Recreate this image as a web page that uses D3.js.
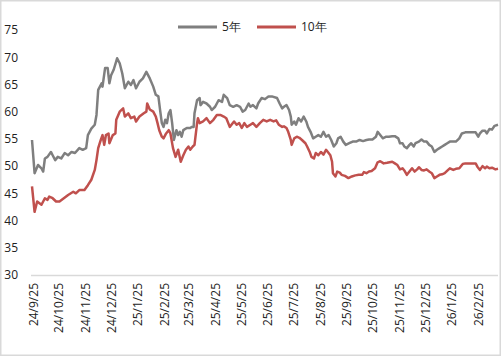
<!DOCTYPE html>
<html><head><meta charset="utf-8">
<script src="https://cdn.jsdelivr.net/npm/d3@7/dist/d3.min.js"></script>
<style>body{margin:0;background:#fff}svg{display:block}text{font-family:"Open Sans","Noto Sans",sans-serif}</style>
</head><body><svg id="c" width="501" height="356"></svg>
<script>
const seriesNames = ["5年", "10年"];
const dates5 = ["2024-09-24","2024-09-27","2024-10-01","2024-10-05","2024-10-07","2024-10-09","2024-10-12","2024-10-16","2024-10-18","2024-10-21","2024-10-24","2024-10-28","2024-11-01","2024-11-05","2024-11-09","2024-11-13","2024-11-18","2024-11-22","2024-11-26","2024-11-28","2024-12-02","2024-12-06","2024-12-08","2024-12-10","2024-12-14","2024-12-15","2024-12-18","2024-12-21","2024-12-23","2024-12-25","2024-12-28","2025-01-01","2025-01-04","2025-01-07","2025-01-10","2025-01-14","2025-01-17","2025-01-20","2025-01-23","2025-01-27","2025-01-31","2025-02-04","2025-02-08","2025-02-12","2025-02-15","2025-02-18","2025-02-20","2025-02-22","2025-02-24","2025-02-26","2025-02-28","2025-03-02","2025-03-04","2025-03-06","2025-03-08","2025-03-11","2025-03-13","2025-03-15","2025-03-17","2025-03-19","2025-03-23","2025-03-27","2025-03-29","2025-03-31","2025-04-01","2025-04-04","2025-04-07","2025-04-08","2025-04-11","2025-04-15","2025-04-19","2025-04-21","2025-04-25","2025-04-29","2025-05-03","2025-05-05","2025-05-09","2025-05-12","2025-05-16","2025-05-20","2025-05-24","2025-05-27","2025-05-30","2025-06-03","2025-06-05","2025-06-08","2025-06-12","2025-06-14","2025-06-18","2025-06-22","2025-06-26","2025-06-30","2025-07-06","2025-07-09","2025-07-12","2025-07-14","2025-07-17","2025-07-20","2025-07-22","2025-07-23","2025-07-26","2025-07-28","2025-07-31","2025-08-03","2025-08-06","2025-08-09","2025-08-11","2025-08-14","2025-08-17","2025-08-20","2025-08-23","2025-08-26","2025-08-29","2025-09-01","2025-09-04","2025-09-07","2025-09-10","2025-09-13","2025-09-15","2025-09-18","2025-09-21","2025-09-24","2025-09-28","2025-10-02","2025-10-06","2025-10-10","2025-10-14","2025-10-18","2025-10-21","2025-10-25","2025-10-29","2025-10-31","2025-11-03","2025-11-06","2025-11-10","2025-11-13","2025-11-17","2025-11-20","2025-11-24","2025-11-26","2025-11-29","2025-12-01","2025-12-04","2025-12-07","2025-12-09","2025-12-12","2025-12-14","2025-12-18","2025-12-21","2025-12-24","2025-12-27","2025-12-30","2026-01-02","2026-01-05","2026-01-08","2026-01-11","2026-01-14","2026-01-17","2026-01-20","2026-01-23","2026-01-27","2026-01-30","2026-02-03","2026-02-06","2026-02-10","2026-02-14","2026-02-18","2026-02-22","2026-02-25","2026-02-27","2026-03-02","2026-03-05","2026-03-07","2026-03-10","2026-03-13","2026-03-16","2026-03-20"];
const values5 = [54.8,48.7,50.2,49.6,49.0,51.4,51.7,52.6,52.0,51.1,51.7,51.4,52.4,52.0,52.6,52.4,53.3,53.0,53.3,55.7,56.9,57.6,59.4,64.0,65.2,64.6,68.0,68.0,65.2,66.7,67.7,69.8,68.9,67.0,64.3,65.5,64.9,65.8,64.3,65.5,66.1,67.3,66.1,64.6,63.1,62.8,60.3,57.9,57.2,58.5,57.9,59.7,60.3,57.9,54.8,56.6,55.7,56.3,55.4,56.6,57.0,57.0,57.2,57.2,59.7,62.1,62.5,61.2,61.8,61.5,60.9,60.3,60.9,62.1,61.8,63.1,62.5,61.2,60.9,61.2,60.9,60.0,60.3,61.5,60.9,61.2,60.6,61.5,62.5,62.3,62.8,62.8,62.5,61.5,60.6,60.9,61.2,60.3,59.1,57.6,58.2,57.6,58.8,58.2,59.1,58.2,57.2,56.3,55.1,55.4,55.7,55.4,56.3,55.4,55.7,54.8,53.6,54.2,55.1,55.4,54.5,53.9,54.2,54.5,54.5,54.8,54.6,54.8,54.9,54.9,55.4,56.3,55.7,55.1,55.4,55.4,55.5,55.5,55.1,54.2,54.2,53.6,53.3,53.9,54.2,53.6,54.2,54.5,54.9,54.5,54.5,53.9,53.6,52.6,53.0,53.3,53.6,53.9,54.2,54.5,54.5,54.5,55.1,56.0,56.2,56.2,56.2,56.2,55.4,56.0,56.5,56.5,56.0,56.8,56.7,57.4,57.6];
const dates10 = ["2024-09-24","2024-09-27","2024-09-30","2024-10-05","2024-10-09","2024-10-12","2024-10-14","2024-10-18","2024-10-22","2024-10-26","2024-10-31","2024-11-05","2024-11-11","2024-11-14","2024-11-18","2024-11-24","2024-11-28","2024-12-02","2024-12-06","2024-12-08","2024-12-10","2024-12-13","2024-12-15","2024-12-17","2024-12-19","2024-12-22","2024-12-23","2024-12-27","2024-12-30","2024-12-31","2025-01-04","2025-01-08","2025-01-10","2025-01-14","2025-01-17","2025-01-21","2025-01-23","2025-01-27","2025-02-01","2025-02-04","2025-02-05","2025-02-08","2025-02-12","2025-02-15","2025-02-17","2025-02-19","2025-02-22","2025-02-24","2025-02-27","2025-03-02","2025-03-04","2025-03-07","2025-03-10","2025-03-13","2025-03-16","2025-03-19","2025-03-22","2025-03-25","2025-03-27","2025-03-30","2025-04-01","2025-04-04","2025-04-05","2025-04-07","2025-04-11","2025-04-15","2025-04-19","2025-04-23","2025-04-27","2025-05-01","2025-05-05","2025-05-08","2025-05-12","2025-05-14","2025-05-17","2025-05-20","2025-05-23","2025-05-26","2025-05-29","2025-06-01","2025-06-05","2025-06-08","2025-06-12","2025-06-16","2025-06-20","2025-06-24","2025-06-28","2025-07-02","2025-07-05","2025-07-08","2025-07-12","2025-07-14","2025-07-17","2025-07-19","2025-07-22","2025-07-23","2025-07-26","2025-07-29","2025-08-01","2025-08-04","2025-08-08","2025-08-10","2025-08-13","2025-08-15","2025-08-18","2025-08-20","2025-08-23","2025-08-26","2025-08-29","2025-09-01","2025-09-04","2025-09-06","2025-09-08","2025-09-09","2025-09-12","2025-09-14","2025-09-17","2025-09-19","2025-09-23","2025-09-27","2025-10-01","2025-10-05","2025-10-09","2025-10-13","2025-10-15","2025-10-18","2025-10-21","2025-10-24","2025-10-28","2025-10-31","2025-11-03","2025-11-07","2025-11-11","2025-11-17","2025-11-20","2025-11-23","2025-11-26","2025-11-29","2025-12-01","2025-12-04","2025-12-07","2025-12-10","2025-12-13","2025-12-16","2025-12-18","2025-12-21","2025-12-24","2025-12-27","2025-12-30","2026-01-02","2026-01-05","2026-01-08","2026-01-11","2026-01-14","2026-01-17","2026-01-21","2026-01-23","2026-01-27","2026-01-30","2026-02-03","2026-02-07","2026-02-10","2026-02-14","2026-02-18","2026-02-22","2026-02-24","2026-02-27","2026-03-02","2026-03-05","2026-03-07","2026-03-10","2026-03-13","2026-03-17","2026-03-20"];
const values10 = [46.3,41.6,43.5,42.9,44.1,43.8,44.4,44.1,43.5,43.5,44.1,44.7,45.3,45.0,45.6,45.6,46.5,47.5,49.3,51.1,53.3,54.8,55.7,53.9,55.7,56.0,54.2,55.7,56.0,58.5,60.0,60.6,59.1,59.7,58.8,59.1,58.2,59.1,59.7,60.0,61.5,60.4,60.0,59.1,57.9,56.6,55.4,55.1,56.0,56.6,56.0,53.3,51.7,53.0,50.8,52.0,53.0,53.6,53.0,53.6,53.9,57.9,58.8,57.9,58.2,58.8,57.9,58.5,59.4,59.4,59.1,58.8,57.2,57.6,58.2,57.6,57.9,57.0,57.9,57.2,57.6,57.9,57.2,57.9,58.5,58.2,58.5,58.2,58.4,57.6,57.2,57.3,57.0,56.3,54.8,53.9,55.1,55.4,55.2,54.8,54.2,53.6,52.6,51.7,51.4,52.4,52.0,52.6,52.1,53.0,52.4,52.0,50.8,48.7,48.1,49.0,48.8,48.4,48.2,47.8,48.1,48.3,48.4,48.4,48.9,48.7,49.0,49.1,49.6,50.7,50.9,50.5,50.6,50.8,50.5,50.2,49.4,49.6,49.2,48.4,49.0,49.6,49.0,49.4,49.8,49.3,49.2,49.4,49.0,48.7,47.8,48.1,48.4,48.5,48.7,49.3,49.6,49.3,49.5,49.6,50.4,50.5,50.5,50.5,50.5,49.9,49.3,50.0,49.6,49.9,49.6,49.7,49.4,49.5];
const yTicks = [30,35,40,45,50,55,60,65,70,75];
const xTickDates = ["2024-09-25","2024-10-25","2024-11-25","2024-12-25","2025-01-25","2025-02-25","2025-03-25","2025-04-25","2025-05-25","2025-06-25","2025-07-25","2025-08-25","2025-09-25","2025-10-25","2025-11-25","2025-12-25","2026-01-25","2026-02-25"];
const domainDates = ["2024-09-24","2026-03-20"];
const colors = ["#7f7f7f", "#c0504d"];

const parse = d3.timeParse("%Y-%m-%d");
const fmt = d3.timeFormat("%y/%-m/%-d");
const svg = d3.select("#c");
const W = 501, H = 356;
const m = {left: 32, right: 3, top: 30, bottom: 81};

svg.append("rect").attr("x",0.75).attr("y",0.75).attr("width",W-1.5).attr("height",H-1.5)
  .attr("fill","#fff").attr("stroke","#d9d9d9").attr("stroke-width",1.5);

const x = d3.scaleTime().domain(domainDates.map(parse)).range([m.left, W - m.right]);
const y = d3.scaleLinear().domain([30, 75]).range([H - m.bottom, m.top]);

// Y axis (labels only)
const yAxis = svg.append("g").attr("transform", `translate(${m.left},0)`)
  .call(d3.axisLeft(y).tickValues(yTicks).tickSize(0).tickPadding(14));
yAxis.select(".domain").remove();
yAxis.selectAll("text").attr("font-size", 12).attr("fill", "#222")
  .attr("font-family", '"Open Sans","Noto Sans",sans-serif');

// X axis
const xAxis = svg.append("g").attr("transform", `translate(0,${H - m.bottom})`)
  .call(d3.axisBottom(x).tickValues(xTickDates.map(parse)).tickFormat(fmt).tickSize(0).tickSizeOuter(0));
xAxis.select(".domain").attr("stroke", "#d9d9d9").attr("stroke-width", 1.5)
  .attr("d", `M${m.left - 1},0.5H${W - m.right}`);
xAxis.selectAll("text").attr("font-size", 12).attr("fill", "#222")
  .attr("font-family", '"Open Sans","Noto Sans",sans-serif')
  .attr("text-anchor", "end").attr("transform", "rotate(-90)")
  .attr("x", -8).attr("y", 0).attr("dy", "0.35em");

const line = d3.line().x(d => x(d[0])).y(d => y(d[1]));
const data = [
  dates5.map((d, i) => [parse(d), values5[i]]),
  dates10.map((d, i) => [parse(d), values10[i]])
];
data.forEach((s, i) => {
  svg.append("path").datum(s).attr("fill", "none").attr("stroke", colors[i])
    .attr("stroke-width", 2.5).attr("stroke-linejoin", "round").attr("d", line);
});

// Legend
const legend = svg.append("g").attr("transform", "translate(0,27)");
const legX = [178, 257];
seriesNames.forEach((n, i) => {
  const g = legend.append("g").attr("transform", `translate(${legX[i]},0)`);
  g.append("line").attr("x1", 0).attr("x2", 39).attr("y1", 0).attr("y2", 0)
    .attr("stroke", colors[i]).attr("stroke-width", 3);
  g.append("text").attr("x", 44).attr("y", 0).attr("dy", "0.35em")
    .attr("font-size", 12).attr("fill", "#222")
    .attr("font-family", '"Open Sans","Noto Sans CJK SC",sans-serif').text(n);
});
</script></body></html>
